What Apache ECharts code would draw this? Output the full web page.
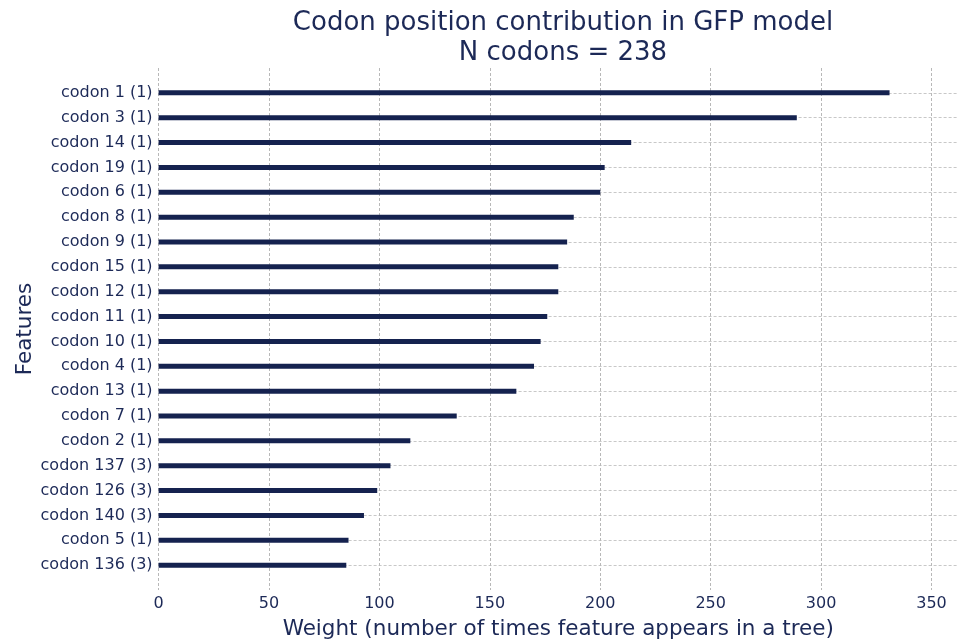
<!DOCTYPE html>
<html>
<head>
<meta charset="utf-8">
<script src="https://cdn.jsdelivr.net/npm/echarts@6/dist/echarts.min.js"></script>
<style>
html,body{margin:0;padding:0;background:#fff;}
#c{width:958px;height:642px;}
</style>
</head>
<body>
<div id="c"></div>
<script>
const categories = ["codon 1 (1)","codon 3 (1)","codon 14 (1)","codon 19 (1)","codon 6 (1)","codon 8 (1)","codon 9 (1)","codon 15 (1)","codon 12 (1)","codon 11 (1)","codon 10 (1)","codon 4 (1)","codon 13 (1)","codon 7 (1)","codon 2 (1)","codon 137 (3)","codon 126 (3)","codon 140 (3)","codon 5 (1)","codon 136 (3)"];
const weights = [331,289,214,202,200,188,185,181,181,176,173,170,162,135,114,105,99,93,86,85];
const xTicks = [0,50,100,150,200,250,300,350];

const FONT = 'DejaVu Sans';
const TXT = '#1c2957';
const BAR = '#15224f';

const yData = [''].concat(categories, ['']);
const barData = ['-'].concat(weights, ['-']);

const chart = echarts.init(document.getElementById('c'));
chart.setOption({
  animation: false,
  backgroundColor: '#ffffff',
  textStyle: {fontFamily: FONT, color: TXT},
  title: {
    text: 'Codon position contribution in GFP model\nN codons = 238',
    left: 558, top: 3, textAlign: 'center',
    textStyle: {fontFamily: FONT, fontSize: 26, fontWeight: 'normal', color: TXT, lineHeight: 30}
  },
  grid: {left: 158.6, right: 0, top: 68, bottom: 52, containLabel: false, outerBoundsMode: 'none'},
  xAxis: {
    type: 'value', min: 0, max: 362, interval: 50,
    name: 'Weight (number of times feature appears in a tree)',
    nameLocation: 'middle', nameGap: 28,
    nameTextStyle: {fontFamily: FONT, fontSize: 21.5, color: TXT},
    axisLine: {show: false}, axisTick: {show: false},
    axisLabel: {fontFamily: FONT, fontSize: 16, color: TXT, margin: 6, showMaxLabel: false,
      formatter: v => (xTicks.indexOf(v) >= 0 ? String(v) : '')},
    splitLine: {show: true, lineStyle: {color: '#b8b8b8', type: [3, 2], width: 1}}
  },
  yAxis: {
    type: 'category', data: yData, inverse: true, boundaryGap: false,
    name: 'Features', nameLocation: 'middle', nameGap: 122, nameMoveOverlap: false,
    nameTextStyle: {fontFamily: FONT, fontSize: 21.5, color: TXT},
    axisLine: {show: false}, axisTick: {show: false},
    axisLabel: {fontFamily: FONT, fontSize: 16, color: TXT, margin: 6, interval: 0},
    splitLine: {show: true, showMinLine: false, showMaxLine: false, interval: 0,
      lineStyle: {color: '#c8c8c8', type: [3, 2], width: 1}}
  },
  series: [{
    type: 'bar', data: barData, barWidth: 5,
    itemStyle: {color: BAR}, z: 3
  }]
});
</script>
</body>
</html>
